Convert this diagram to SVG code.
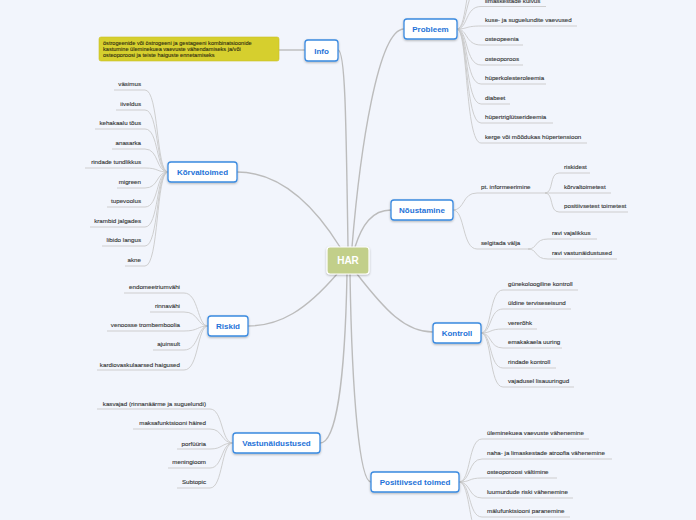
<svg xmlns="http://www.w3.org/2000/svg" width="696" height="520" viewBox="0 0 696 520">
<defs>
<filter id="sh" x="-20%" y="-30%" width="140%" height="170%">
<feDropShadow dx="0" dy="1" stdDeviation="0.8" flood-color="#000" flood-opacity="0.28"/>
</filter>
<style>
.bg{fill:#f2f5fc}
.main{fill:none;stroke:#bcbcbc;stroke-width:1.4}
.sub{fill:none;stroke:#c9c9c9;stroke-width:0.9}
.node rect{fill:#fff;stroke:#3a8ae0;stroke-width:1.3}
.node text{font-family:"Liberation Sans",Arial,sans-serif;font-weight:bold;font-size:8px;fill:#1f73d8;text-anchor:middle}
.c{font-family:"Liberation Sans",Arial,sans-serif;font-size:6.2px;fill:#353535;stroke:#353535;stroke-width:0.12}
.l{text-anchor:end}
.note{font-family:"Liberation Sans",Arial,sans-serif;font-size:5.6px;fill:#2e2c10;stroke:#2e2c10;stroke-width:0.1}
</style>
</defs>
<rect class="bg" x="0" y="0" width="696" height="520"/>

<g id="connectors">
<path class="main" d="M279,50 H305"/>
<path class="main" d="M338,50 C345,50 346,110 348,247"/>
<path class="main" d="M352,247 C360,150 378,29 404,29"/>
<path class="main" d="M355,247 C362,225 372,210 391,210"/>
<path class="main" d="M340,247 C312,202 278,172 237,172"/>
<path class="main" d="M337,274 C306,310 280,326 248,326"/>
<path class="main" d="M347,274 C345,380 336,443 320,443"/>
<path class="main" d="M350,274 C352,400 360,482 371,482"/>
<path class="main" d="M357,274 C385,310 405,332 433,332"/>
<path class="sub" d="M457,29 C468,29 465,-33 481,-33 H540"/>
<path class="sub" d="M457,29 C468,29 465,-13 481,-13 H540"/>
<path class="sub" d="M457,29 C468,29 465,6.5 481,6.5 H546"/>
<path class="sub" d="M457,29 C468,29 465,26 481,26 H577"/>
<path class="sub" d="M457,29 C468,29 465,45 481,45 H523"/>
<path class="sub" d="M457,29 C468,29 465,65 481,65 H523"/>
<path class="sub" d="M457,29 C468,29 465,84 481,84 H546"/>
<path class="sub" d="M457,29 C468,29 465,104 481,104 H510"/>
<path class="sub" d="M457,29 C468,29 465,123 481,123 H553"/>
<path class="sub" d="M457,29 C468,29 465,143 481,143 H587"/>
<path class="sub" d="M453,210 C465,210 462,193 477,193 H547"/>
<path class="sub" d="M453,210 C465,210 462,249 477,249 H530"/>
<path class="sub" d="M545,193 C554,193 549,173 559,173 H590"/>
<path class="sub" d="M545,193 H611"/>
<path class="sub" d="M545,193 C554,193 549,212 559,212 H628"/>
<path class="sub" d="M528,249 C538,249 534,239 548,239 H597"/>
<path class="sub" d="M528,249 C538,249 534,259 548,259 H617"/>
<path class="sub" d="M481,333 C492,333 489,290 503,290 H578"/>
<path class="sub" d="M481,333 C492,333 489,309 503,309 H571"/>
<path class="sub" d="M481,333 C492,333 489,329 503,329 H537"/>
<path class="sub" d="M481,333 C492,333 489,348 503,348 H562"/>
<path class="sub" d="M481,333 C492,333 489,368 503,368 H556"/>
<path class="sub" d="M481,333 C492,333 489,387 503,387 H574"/>
<path class="sub" d="M459,482 C471,482 468,439 482,439 H589"/>
<path class="sub" d="M459,482 C471,482 468,459 482,459 H612"/>
<path class="sub" d="M459,482 C471,482 468,478 482,478 H557"/>
<path class="sub" d="M459,482 C471,482 468,498 482,498 H573"/>
<path class="sub" d="M459,482 C471,482 468,517 482,517 H570"/>
<path class="sub" d="M459,482 C471,482 468,537 482,537 H570"/>
<path class="sub" d="M168,172 C156,172 159,90 145,90 H114"/>
<path class="sub" d="M168,172 C156,172 159,110 145,110 H116"/>
<path class="sub" d="M168,172 C156,172 159,129 145,129 H95"/>
<path class="sub" d="M168,172 C156,172 159,149 145,149 H112"/>
<path class="sub" d="M168,172 C156,172 159,168 145,168 H85"/>
<path class="sub" d="M168,172 C156,172 159,188 145,188 H117"/>
<path class="sub" d="M168,172 C156,172 159,207 145,207 H107"/>
<path class="sub" d="M168,172 C156,172 159,227 145,227 H90"/>
<path class="sub" d="M168,172 C156,172 159,246 145,246 H102"/>
<path class="sub" d="M168,172 C156,172 159,266 145,266 H125"/>
<path class="sub" d="M208,326 C197,326 199,293 184,293 H124"/>
<path class="sub" d="M208,326 C197,326 199,312 184,312 H150"/>
<path class="sub" d="M208,326 C197,326 199,331 184,331 H107"/>
<path class="sub" d="M208,326 C197,326 199,350 184,350 H153"/>
<path class="sub" d="M208,326 C197,326 199,370 184,370 H97"/>
<path class="sub" d="M233,443 C221,443 223,409 210,409 H97"/>
<path class="sub" d="M233,443 C221,443 223,429 210,429 H133"/>
<path class="sub" d="M233,443 C221,443 223,449 210,449 H177"/>
<path class="sub" d="M233,443 C221,443 223,468 210,468 H168"/>
<path class="sub" d="M233,443 C221,443 223,488 210,488 H177"/>
</g>

<g id="har">
<rect x="327" y="247" width="42" height="27" rx="3" fill="#c2cf8a" stroke="#fff" stroke-width="1.2" filter="url(#sh)"/>
<text x="348" y="264" font-family="Liberation Sans, Arial, sans-serif" font-weight="bold" font-size="10" fill="#fff" text-anchor="middle">HAR</text>
</g>

<g id="info-note">
<rect x="99" y="37" width="180" height="24" rx="2" fill="#d6cf2e" stroke="#c9c024" stroke-width="0.6"/>
<text class="note" x="103" y="45">östrogeenide või östrogeeni ja gestageeni kombinatsioonide</text>
<text class="note" x="103" y="51">kastumine üleminekuea vaevuste vähendamiseks ja/või</text>
<text class="note" x="103" y="57">osteoporoosi ja teiste haiguste ennetamiseks</text>
</g>

<g id="info" class="node">
<rect x="305" y="40" width="33" height="21" rx="3" filter="url(#sh)"/>
<text x="321.5" y="53.5">Info</text>
</g>

<g id="probleem" class="node">
<rect x="404" y="19" width="53" height="20" rx="3" filter="url(#sh)"/>
<text x="430.5" y="32">Probleem</text>
</g>
<g id="probleem-children">
<text class="c" x="485" y="3">limaskestade kuivus</text>
<text class="c" x="485" y="22">kuse- ja suguelundite vaevused</text>
<text class="c" x="485" y="41">osteopeenia</text>
<text class="c" x="485" y="61">osteoporoos</text>
<text class="c" x="485" y="80">hüperkolesteroleemia</text>
<text class="c" x="485" y="100">diabeet</text>
<text class="c" x="485" y="119">hüpertriglütserideemia</text>
<text class="c" x="485" y="139">kerge või mõõdukas hüpertensioon</text>
</g>

<g id="noustamine" class="node">
<rect x="391" y="200" width="62" height="20" rx="3" filter="url(#sh)"/>
<text x="422" y="213">Nõustamine</text>
</g>
<g id="noustamine-children">
<text class="c" x="481" y="189">pt. informeerimine</text>
<text class="c" x="481" y="245">selgitada välja</text>
<text class="c" x="564" y="169">riskidest</text>
<text class="c" x="564" y="189">kõrvaltoimetest</text>
<text class="c" x="564" y="208">positiivsetest toimetest</text>
<text class="c" x="552" y="235">ravi vajalikkus</text>
<text class="c" x="552" y="255">ravi vastunäidustused</text>
</g>

<g id="kontroll" class="node">
<rect x="433" y="323" width="48" height="20" rx="3" filter="url(#sh)"/>
<text x="457" y="336">Kontroll</text>
</g>
<g id="kontroll-children">
<text class="c" x="508" y="286">günekoloogiline kontroll</text>
<text class="c" x="508" y="305">üldine terviseseisund</text>
<text class="c" x="508" y="325">vererõhk</text>
<text class="c" x="508" y="344">emakakaela uuring</text>
<text class="c" x="508" y="364">rindade kontroll</text>
<text class="c" x="508" y="383">vajadusel lisauuringud</text>
</g>

<g id="positiivsed" class="node">
<rect x="371" y="472" width="88" height="20" rx="3" filter="url(#sh)"/>
<text x="415" y="485">Positiivsed toimed</text>
</g>
<g id="positiivsed-children">
<text class="c" x="487" y="435">üleminekuea vaevuste vähenemine</text>
<text class="c" x="487" y="455">naha- ja limaskestade atroofia vähenemine</text>
<text class="c" x="487" y="474">osteoporoosi vältimine</text>
<text class="c" x="487" y="494">luumurdude riski vähenemine</text>
<text class="c" x="487" y="513">mälufunktsiooni paranemine</text>
</g>

<g id="korvaltoimed" class="node">
<rect x="168" y="162" width="69" height="20" rx="3" filter="url(#sh)"/>
<text x="202.5" y="175">Kõrvaltoimed</text>
</g>
<g id="korvaltoimed-children">
<text class="c l" x="141" y="86">väsimus</text>
<text class="c l" x="141" y="106">iiveldus</text>
<text class="c l" x="141" y="125">kehakaalu tõus</text>
<text class="c l" x="141" y="145">anasarka</text>
<text class="c l" x="141" y="164">rindade tundlikkus</text>
<text class="c l" x="141" y="184">migreen</text>
<text class="c l" x="141" y="203">tupevoolus</text>
<text class="c l" x="141" y="223">krambid jalgades</text>
<text class="c l" x="141" y="242">libido langus</text>
<text class="c l" x="141" y="262">akne</text>
</g>

<g id="riskid" class="node">
<rect x="208" y="316" width="40" height="20" rx="3" filter="url(#sh)"/>
<text x="228" y="329">Riskid</text>
</g>
<g id="riskid-children">
<text class="c l" x="180" y="289">endomeetriumvähi</text>
<text class="c l" x="180" y="308">rinnavähi</text>
<text class="c l" x="180" y="327">venoosse trombemboolia</text>
<text class="c l" x="180" y="346">ajuinsult</text>
<text class="c l" x="180" y="367">kardiovaskulaarsed haigused</text>
</g>

<g id="vastunaidustused" class="node">
<rect x="233" y="433" width="87" height="20" rx="3" filter="url(#sh)"/>
<text x="276.5" y="446">Vastunäidustused</text>
</g>
<g id="vastunaidustused-children">
<text class="c l" x="206" y="406">kasvajad (rinnanäärme ja suguelundi)</text>
<text class="c l" x="206" y="425">maksafunktsiooni häired</text>
<text class="c l" x="206" y="446">porfüüria</text>
<text class="c l" x="206" y="464">meningioom</text>
<text class="c l" x="206" y="484">Subtopic</text>
</g>
</svg>
